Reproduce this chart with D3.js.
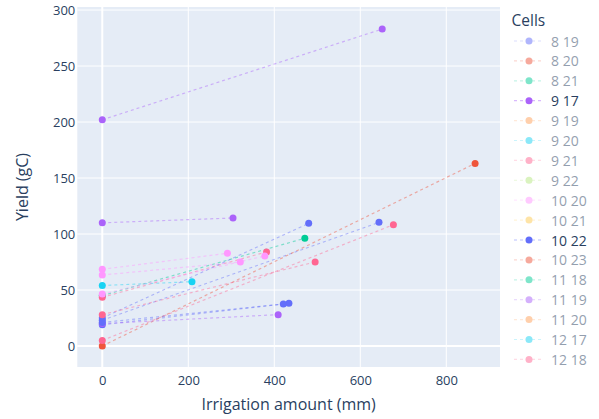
<!DOCTYPE html>
<html>
<head>
<meta charset="utf-8">
<script src="https://cdn.jsdelivr.net/npm/d3@7"></script>
<style>
  html, body { margin: 0; padding: 0; background: #fff; }
  svg { display: block; font-family: "Open Sans", verdana, arial, sans-serif; }
</style>
</head>
<body>
<svg id="chart" width="599" height="419"></svg>
<script>
// ---- data ----
const cells = ["8 19","8 20","8 21","9 17","9 19","9 20","9 21","9 22","10 20","10 21","10 22","10 23","11 18","11 19","11 20","12 17","12 18"];
const palette = ["#636efa","#EF553B","#00cc96","#ab63fa","#FFA15A","#19d3f3","#FF6692","#B6E880","#FF97FF","#FECB52"];
const highlighted = ["9 17","10 22"];

// each segment: rainfed point (0, rainfedYield) -> irrigated point (irrigation, irrigatedYield)
const segCell        = ["9 17","11 19","9 17","10 22","8 19","10 22","8 19","8 20","9 21","12 18","9 21","8 21","10 20","10 20","10 20","9 20"];
const rainfedYield   = [202, 110, 20, 25, 23, 21, 19, 0, 43.5, 28, 5, 45, 68.5, 63.4, 46.4, 54];
const irrigation     = [651, 304, 409, 480, 643.5, 421, 434, 867, 382, 495, 677, 471, 291, 321, 378, 208.6];
const irrigatedYield = [283, 114.3, 28, 109.5, 110.4, 37.5, 38.1, 163, 84, 75, 108.3, 96.2, 82.8, 75, 80.4, 57.4];

const xTicks = [0, 200, 400, 600, 800];
const yTicks = [0, 50, 100, 150, 200, 250, 300];

// ---- layout ----
const svg = d3.select("#chart");
const L = 77.3, R = 500, T = 7, B = 367;
const x = d3.scaleLinear().domain([-58.1, 924.9]).range([L, R]);
const y = d3.scaleLinear().domain([-18.75, 302.7]).range([B, T]);
const textColor = "#2a3f5f";
const colorOf = c => palette[cells.indexOf(c) % palette.length];

svg.append("rect").attr("x", L).attr("y", T).attr("width", R - L).attr("height", B - T).attr("fill", "#E5ECF6");

// grid
const gx = svg.append("g");
gx.selectAll("line.gx").data(xTicks).join("line")
  .attr("x1", d => x(d)).attr("x2", d => x(d)).attr("y1", T).attr("y2", B)
  .attr("stroke", "#fff").attr("stroke-width", d => d === 0 ? 2 : 1);
gx.selectAll("line.gy").data(yTicks).join("line")
  .attr("y1", d => y(d)).attr("y2", d => y(d)).attr("x1", L).attr("x2", R)
  .attr("stroke", "#fff").attr("stroke-width", d => d === 0 ? 2 : 1);

// axes via d3 axis generators, styled
const xAxis = svg.append("g").attr("transform", `translate(0,${B})`)
  .call(d3.axisBottom(x).tickValues(xTicks).tickSize(0).tickPadding(9).tickFormat(d3.format("d")));
const yAxis = svg.append("g").attr("transform", `translate(${L},0)`)
  .call(d3.axisLeft(y).tickValues(yTicks).tickSize(0).tickPadding(2).tickFormat(d3.format("d")));
[xAxis, yAxis].forEach(a => {
  a.select(".domain").remove();
  a.selectAll("text").attr("fill", textColor).style("font-size", "13px")
    .style("font-family", '"Open Sans", verdana, arial, sans-serif');
});

// axis titles
svg.append("text").attr("x", (L + R) / 2).attr("y", 404).attr("text-anchor", "middle")
  .attr("dominant-baseline", "central").attr("fill", textColor).style("font-size", "16px")
  .text("Irrigation amount (mm)");
svg.append("text").attr("transform", `translate(22,${(T + B) / 2}) rotate(-90)`)
  .attr("text-anchor", "middle").attr("dominant-baseline", "central")
  .attr("fill", textColor).style("font-size", "16px").text("Yield (gC)");

// traces in legend order
const plot = svg.append("g");
const idx = d3.range(segCell.length);
cells.forEach(c => {
  const segs = idx.filter(i => segCell[i] === c);
  if (!segs.length) return;
  const g = plot.append("g");
  const col = colorOf(c);
  g.selectAll("line").data(segs).join("line")
    .attr("x1", x(0)).attr("y1", i => y(rainfedYield[i]))
    .attr("x2", i => x(irrigation[i])).attr("y2", i => y(irrigatedYield[i]))
    .attr("stroke", col).attr("stroke-width", 1.2).attr("stroke-opacity", 0.45)
    .attr("stroke-dasharray", "3,3");
  const pts = segs.flatMap(i => [[0, rainfedYield[i]], [irrigation[i], irrigatedYield[i]]]);
  g.selectAll("circle").data(pts).join("circle")
    .attr("cx", d => x(d[0])).attr("cy", d => y(d[1])).attr("r", 3.5).attr("fill", col);
});

// legend
const lg = svg.append("g");
lg.append("text").attr("x", 511.5).attr("y", 20).attr("dominant-baseline", "central")
  .attr("fill", textColor).style("font-size", "15.5px").text("Cells");
const items = lg.selectAll("g.item").data(cells).join("g")
  .attr("transform", (d, i) => `translate(0,${41 + i * 19.9})`)
  .attr("opacity", d => highlighted.includes(d) ? 1 : 0.5);
items.append("line").attr("x1", 514).attr("x2", 543).attr("y1", 0).attr("y2", 0)
  .attr("stroke", d => colorOf(d)).attr("stroke-width", 1.2).attr("stroke-opacity", 0.45)
  .attr("stroke-dasharray", "3,3");
items.append("circle").attr("cx", 529).attr("cy", 0).attr("r", 3.5).attr("fill", d => colorOf(d));
items.append("text").attr("x", 551).attr("y", 0).attr("dominant-baseline", "central")
  .attr("fill", textColor).style("font-size", "14px").text(d => d);
</script>
</body>
</html>
